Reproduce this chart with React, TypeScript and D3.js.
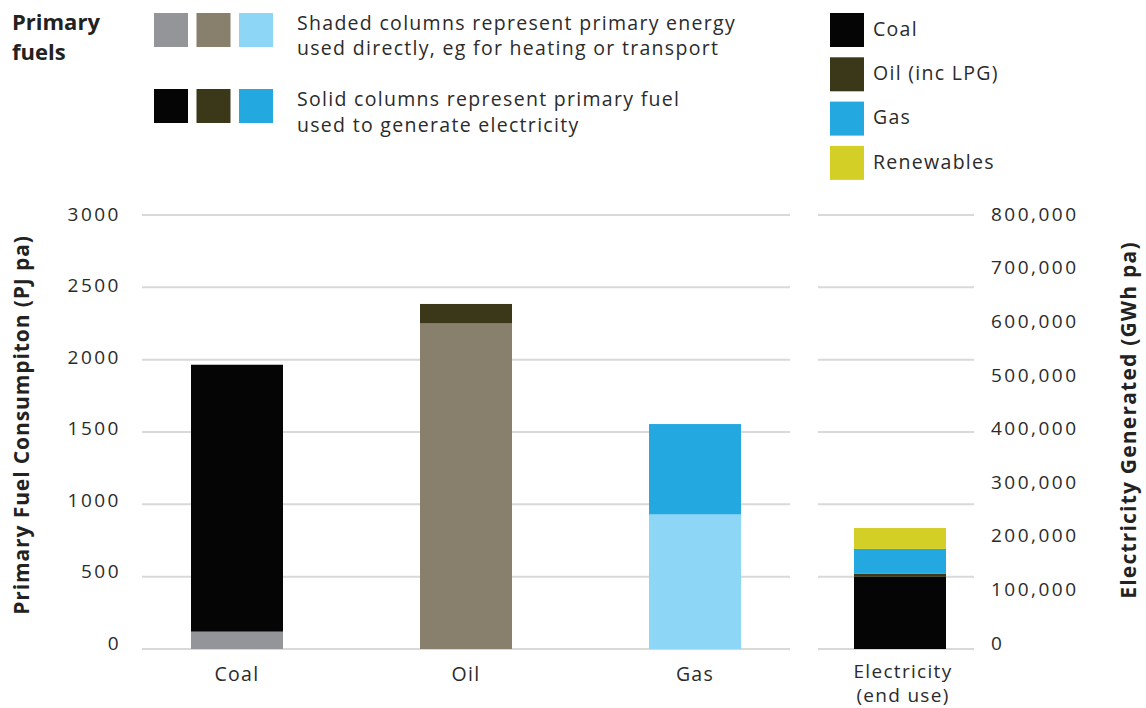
import React from "react";
import * as d3 from "d3";

const categories = ["Coal", "Oil", "Gas"];
const directUse = [120, 2250, 930];
const electricityInput = [1845, 135, 625];
const directColors = ["#939598", "#887f6c", "#8dd6f5"];
const elecColors = ["#050505", "#3b3719", "#24a8e0"];

const elecCategory = ["Electricity", "(end use)"];
const elecSources = ["Coal", "Oil (inc LPG)", "Gas", "Renewables"];
const elecValues = [133000, 5500, 46000, 38500];
const elecSourceColors = ["#050505", "#3b3719", "#24a8e0", "#d4cf27"];

const leftTicks = [0, 500, 1000, 1500, 2000, 2500, 3000];
const rightTicks = [0, 100000, 200000, 300000, 400000, 500000, 600000, 700000, 800000];

const FONT = "'Open Sans', 'Noto Sans', sans-serif";
const TEXT = "#2b2b2b";

export default function App() {
  const W = 1146, H = 708;
  const y = d3.scaleLinear().domain([0, 3000]).range([649, 215]);
  const yLab = d3.scaleLinear().domain([0, 3000]).range([643, 214]);
  const yR = d3.scaleLinear().domain([0, 800000]).range([649, 215]);
  const yRLab = d3.scaleLinear().domain([0, 800000]).range([643, 214]);
  const x = d3.scalePoint<string>().domain(categories).range([237, 695]);
  const barW = 92;
  const xE = 900;
  const fmt = d3.format(",");

  const stackRow: any = {};
  elecSources.forEach((s, i) => (stackRow[s] = elecValues[i]));
  const stacked = d3.stack<any>().keys(elecSources)([stackRow]);

  const txt = { fontSize: 19.5, fill: TEXT, letterSpacing: 1.3 } as any;
  const tick = { fontSize: 19, fill: TEXT, letterSpacing: 2.5 } as any;

  return (
    <svg width={W} height={H} style={{ position: "absolute", left: 0, top: 0, background: "#fff" }} fontFamily={FONT}>
      {/* gridlines */}
      {leftTicks.map((t) => (
        <g key={t}>
          <line x1={142} x2={790} y1={y(t)} y2={y(t)} stroke="#d9d9d9" strokeWidth={2} />
          <line x1={818} x2={974} y1={y(t)} y2={y(t)} stroke="#d9d9d9" strokeWidth={2} />
          <text x={121} y={yLab(t)} dy="0.35em" textAnchor="end" {...tick}>{t}</text>
        </g>
      ))}
      {rightTicks.map((t) => (
        <text key={t} x={991} y={yRLab(t)} dy="0.35em" {...tick}>{fmt(t)}</text>
      ))}

      {/* primary fuel bars */}
      {categories.map((c, i) => {
        const x0 = (x(c) as number) - barW / 2;
        return (
          <g key={c}>
            <rect x={x0} width={barW} y={y(directUse[i])} height={y(0) - y(directUse[i])} fill={directColors[i]} />
            <rect x={x0} width={barW} y={y(directUse[i] + electricityInput[i])} height={y(directUse[i]) - y(directUse[i] + electricityInput[i])} fill={elecColors[i]} />
            <text x={x(c)} y={674} dy="0.35em" textAnchor="middle" {...txt}>{c}</text>
          </g>
        );
      })}

      {/* electricity bar */}
      {stacked.map((s, i) => (
        <rect key={s.key} x={xE - barW / 2} width={barW} y={yR(s[0][1])} height={yR(s[0][0]) - yR(s[0][1])} fill={elecSourceColors[i]} />
      ))}
      {elecCategory.map((t, i) => (
        <text key={t} x={903} y={671 + i * 24} dy="0.35em" textAnchor="middle" fontSize={19} fill={TEXT} letterSpacing={1.3}>{t}</text>
      ))}

      {/* axis titles */}
      <text transform="translate(29,425) rotate(-90)" textAnchor="middle" fontSize={21} fontWeight={700} fill="#222" letterSpacing={0.9}>Primary Fuel Consumpiton (PJ pa)</text>
      <text transform="translate(1136,420) rotate(-90)" textAnchor="middle" fontSize={21} fontWeight={700} fill="#222" letterSpacing={1.2}>Electricity Generated (GWh pa)</text>

      {/* top-left legend */}
      <text x={12} y={30} fontSize={22} fontWeight={700} fill="#222">Primary</text>
      <text x={12} y={60} fontSize={22} fontWeight={700} fill="#222">fuels</text>
      {directColors.map((c, i) => (
        <rect key={c} x={154 + i * 42.5} y={13} width={34} height={34} fill={c} />
      ))}
      {elecColors.map((c, i) => (
        <rect key={c} x={154 + i * 42.5} y={89} width={34} height={34} fill={c} />
      ))}
      <text x={297} y={23} dy="0.35em" {...txt}>Shaded columns represent primary energy</text>
      <text x={297} y={48} dy="0.35em" {...txt}>used directly, eg for heating or transport</text>
      <text x={297} y={99} dy="0.35em" {...txt}>Solid columns represent primary fuel</text>
      <text x={297} y={125} dy="0.35em" {...txt}>used to generate electricity</text>

      {/* right legend */}
      {elecSources.map((s, i) => (
        <g key={s}>
          <rect x={830} y={13 + i * 44.3} width={34} height={34} fill={elecSourceColors[i]} />
          <text x={873} y={29 + i * 44.3} dy="0.35em" {...txt}>{s}</text>
        </g>
      ))}
    </svg>
  );
}
